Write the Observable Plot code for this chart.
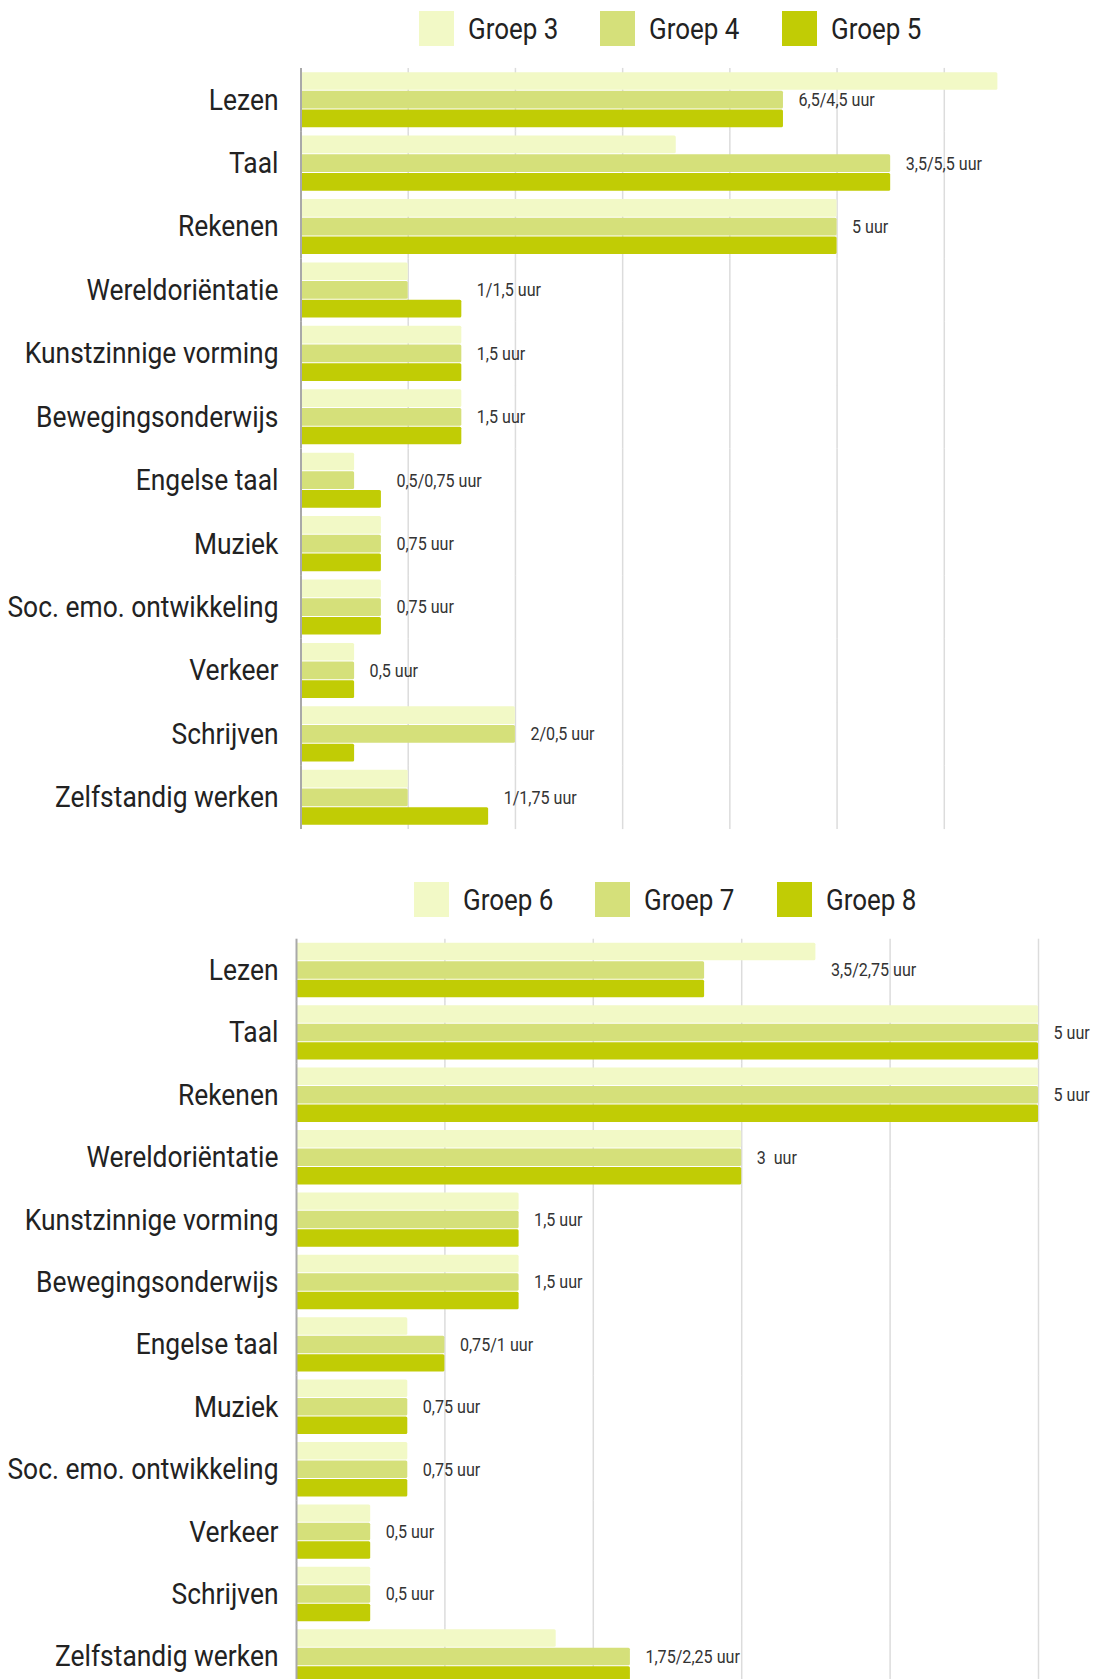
<!DOCTYPE html>
<html>
<head>
<meta charset="utf-8">
<script src="https://cdn.jsdelivr.net/npm/d3@7"></script>
<script src="https://cdn.jsdelivr.net/npm/@observablehq/plot@0.6"></script>
<style>
  html, body { margin: 0; padding: 0; background: #fff; }
  #wrap { position: relative; width: 1094px; height: 1679px; overflow: hidden; font-family: Roboto, "Noto Sans", sans-serif; }
  .legend { position: absolute; display: flex; align-items: center; color: #222; font-size: 29.5px; }
  .legend .sw { width: 35px; height: 35px; margin-right: 14px; flex: none; }
  .legend .lb { margin-right: 42px; white-space: nowrap; overflow: visible; }
  .legend .lb span { display: inline-block; transform-origin: 0 50%; }
  .chart { position: absolute; left: 0; }
</style>
</head>
<body>
<div id="wrap">
  <div class="legend" id="leg1" style="left:419px; top:11px;"></div>
  <div class="chart" id="c1" style="top:60px;"></div>
  <div class="legend" id="leg2" style="left:414px; top:882px;"></div>
  <div class="chart" id="c2" style="top:930px;"></div>
</div>
<script>
const categories = ["Lezen", "Taal", "Rekenen", "Wereldoriëntatie", "Kunstzinnige vorming", "Bewegingsonderwijs", "Engelse taal", "Muziek", "Soc. emo. ontwikkeling", "Verkeer", "Schrijven", "Zelfstandig werken"];

const groupsTop = ["Groep 3", "Groep 4", "Groep 5"];
const groep3 = [6.5, 3.5, 5, 1, 1.5, 1.5, 0.5, 0.75, 0.75, 0.5, 2, 1];
const groep4 = [4.5, 5.5, 5, 1, 1.5, 1.5, 0.5, 0.75, 0.75, 0.5, 2, 1];
const groep5 = [4.5, 5.5, 5, 1.5, 1.5, 1.5, 0.75, 0.75, 0.75, 0.5, 0.5, 1.75];
const labelsTop = ["6,5/4,5 uur", "3,5/5,5 uur", "5 uur", "1/1,5 uur", "1,5 uur", "1,5 uur", "0,5/0,75 uur", "0,75 uur", "0,75 uur", "0,5 uur", "2/0,5 uur", "1/1,75 uur"];
const ticksTop = [1, 2, 3, 4, 5, 6];

const groupsBottom = ["Groep 6", "Groep 7", "Groep 8"];
const groep6 = [3.5, 5, 5, 3, 1.5, 1.5, 0.75, 0.75, 0.75, 0.5, 0.5, 1.75];
const groep7 = [2.75, 5, 5, 3, 1.5, 1.5, 1, 0.75, 0.75, 0.5, 0.5, 2.25];
const groep8 = [2.75, 5, 5, 3, 1.5, 1.5, 1, 0.75, 0.75, 0.5, 0.5, 2.25];
const labelsBottom = ["3,5/2,75 uur", "5 uur", "5 uur", "3  uur", "1,5 uur", "1,5 uur", "0,75/1 uur", "0,75 uur", "0,75 uur", "0,5 uur", "0,5 uur", "1,75/2,25 uur"];
const ticksBottom = [1, 2, 3, 4, 5];

const colors = ["#f2f9c6", "#d5e07a", "#c1cc05"];

function legend(el, groups) {
  const node = document.getElementById(el);
  const k = 0.88;
  groups.forEach((g, i) => {
    const sw = document.createElement("div");
    sw.className = "sw"; sw.style.background = colors[i];
    const lb = document.createElement("div");
    lb.className = "lb";
    const sp = document.createElement("span");
    sp.textContent = g;
    lb.appendChild(sp);
    node.appendChild(sw); node.appendChild(lb);
    const w = sp.getBoundingClientRect().width;
    sp.style.transform = `scaleX(${k})`;
    lb.style.width = (w * k) + "px";
  });
}

function condenseTexts(svg) {
  svg.querySelectorAll("text").forEach(t => {
    const w = t.getComputedTextLength();
    const isValue = t.closest('[aria-label="text"]') !== null;
    const k = isValue ? 0.87 : 0.895;
    if (w > 0) {
      t.setAttribute("textLength", w * k);
      t.setAttribute("lengthAdjust", "spacingAndGlyphs");
    }
  });
}

function chart(opts) {
  const {groups, series, labels, domain, ticks, height, marginTop, marginBottom, marginLeft, marginRight, pInner, anchorIdx, gap} = opts;
  const rows = [];
  categories.forEach((c, i) => groups.forEach((g, j) => rows.push({cat: c, group: g, value: series[j][i]})));
  const ann = categories.map((c, i) => ({cat: c, label: labels[i], group: groups[1], x: d3.max(anchorIdx, j => series[j][i])}));
  return Plot.plot({
    width: 1094,
    height,
    marginLeft,
    marginRight,
    marginTop,
    marginBottom,
    style: {fontFamily: "Roboto, 'Noto Sans', sans-serif", fontSize: "29.5px", color: "#222", background: "transparent", overflow: "visible"},
    x: {domain, axis: null},
    y: {domain: groups, axis: null, padding: 0, round: false},
    fy: {domain: categories, axis: "left", label: null, tickSize: 0, tickPadding: marginLeft - 278, paddingInner: pInner, paddingOuter: 0, round: false},
    color: {domain: groups, range: colors},
    marks: [
      Plot.ruleX(ticks, {x: d => d, stroke: "#dcdcdc", strokeWidth: 1.5, insetTop: -gap / 2, insetBottom: -gap / 2}),
      Plot.barX(rows, {x: "value", y: "group", fy: "cat", fill: "group", insetTop: 0.5, insetBottom: 0.5, rx: 1.5}),
      Plot.ruleX([0], {stroke: "#a9a9a9", strokeWidth: 2, insetTop: -gap / 2, insetBottom: -gap / 2}),
      Plot.text(ann, {x: "x", y: "group", fy: "cat", text: "label", dx: 15, textAnchor: "start", fontSize: 18.5, fill: "#333"})
    ]
  });
}

legend("leg1", groupsTop);
legend("leg2", groupsBottom);

const svg1 = chart({
  groups: groupsTop, series: [groep3, groep4, groep5], labels: labelsTop,
  domain: [0, 7], ticks: ticksTop, height: 775, marginTop: 11.7, marginBottom: 9.7, marginLeft: 300.5, marginRight: 43,
  pInner: 0.1167, anchorIdx: [1, 2], gap: 7.6
});
document.getElementById("c1").appendChild(svg1);
condenseTexts(svg1);

const svg2 = chart({
  groups: groupsBottom, series: [groep6, groep7, groep8], labels: labelsBottom,
  domain: [0, 5], ticks: ticksBottom, height: 760, marginTop: 12.3, marginBottom: 5.9, marginLeft: 296, marginRight: 56,
  pInner: 0.1122, anchorIdx: [0, 1, 2], gap: 7.2
});
document.getElementById("c2").appendChild(svg2);
condenseTexts(svg2);
</script>
</body>
</html>
